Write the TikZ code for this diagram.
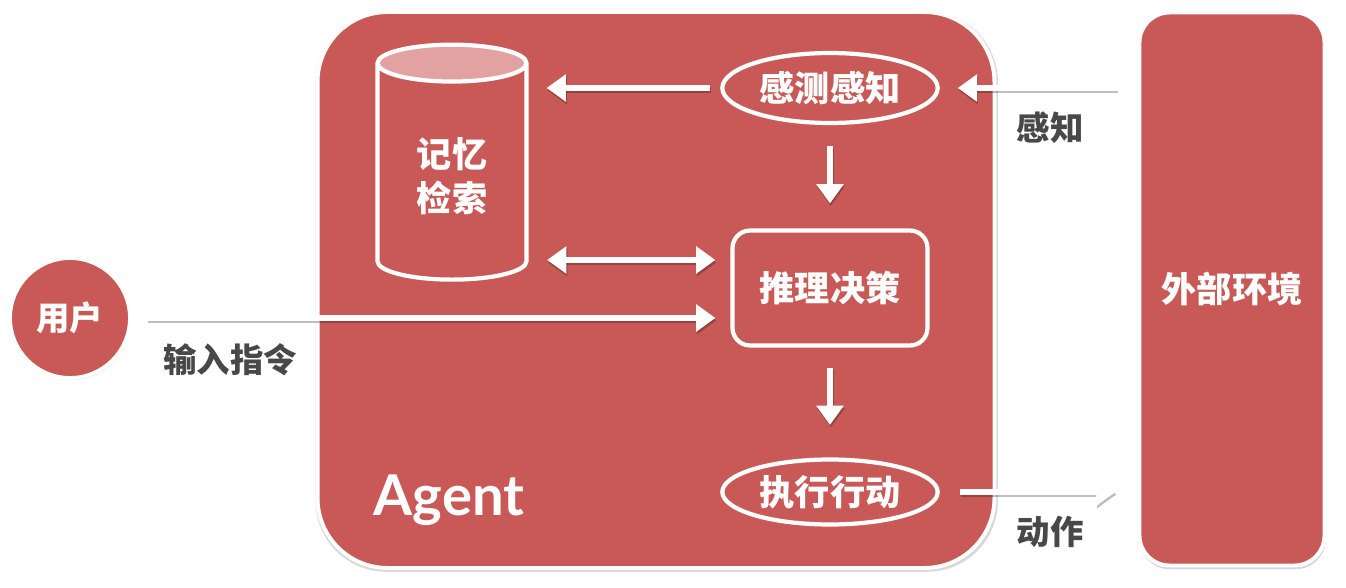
\documentclass[tikz,border=0pt]{standalone}
\usepackage{fontspec}
\usepackage{tikz}
\setmainfont{Lato}
\newfontfamily\cjk{Noto Sans CJK SC}
\usetikzlibrary{calc}
\usetikzlibrary{shapes.geometric,arrows.meta}
\usetikzlibrary{shadows}

\definecolor{agentred}{RGB}{200,89,86}
\definecolor{toppink}{RGB}{226,162,162}
\definecolor{labelgray}{RGB}{72,72,72}

% all connectors, drawn once as shadow and once in white
\newcommand\flowlines{%
	\draw[flow,shorten <=0.2cm,shorten >=0.36cm] (sense.west) -- (mem.east |- sense.west);% to memory
	\draw[flow,shorten <=0.42cm,shorten >=0.5cm] (sense.south) -- (reason.north);
	\draw[flowboth,shorten <=0.37cm,shorten >=0.3cm] (mem.east |- memio) -- (memio);
	\draw[flow,shorten <=0.3cm,shorten >=0.3cm] (user.east) -- (reason.west |- user.east);% user input
	\draw[flow,shorten <=0.4cm,shorten >=0.65cm] (reason.south) -- (act.north);
	\draw[flow,shorten <=0.4cm,shorten >=0.36cm] (env.west |- sense.east) -- (sense.east);% perception
	\draw[flow,shorten <=0.4cm,shorten >=0.44cm] (act.east) -- (env.west |- act.east);% action
}

\begin{document}
\begin{tikzpicture}[x=0.02cm,y=-0.02cm,
	box/.style={fill=agentred,draw=white,line width=2.2pt,drop shadow={shadow xshift=0.4pt,shadow yshift=-0.9pt,shadow scale=1.008,opacity=0.3}},
	part/.style={draw=white,line width=2.4pt,text=white,font=\cjk\bfseries\fontsize{20}{25}\selectfont},
	lab/.style={text=labelgray,font=\cjk\bfseries\fontsize{19}{23}\selectfont},
	flow/.style={draw=white,line width=3.2pt,-{Triangle[width=15pt,length=11pt]}},
	flowboth/.style={draw=white,line width=3.2pt,{Triangle[width=15pt,length=11pt]}-{Triangle[width=15pt,length=11pt]}}]
				\useasboundingbox (0,0) rectangle (1346,588);
				
				\node[box,rounded corners=1.4cm,minimum width=13.54cm,minimum height=11.12cm] (agent) at (656,290) {};% Agent frame
				\node[box,rounded corners=0.6cm,minimum width=3.7cm,minimum height=11.06cm,text=white,font=\cjk\bfseries\fontsize{20}{25}\selectfont] (env) at (1232,289) {外部环境};
				\node[box,circle,minimum size=2.4cm,text=white,font=\cjk\bfseries\fontsize{19}{23}\selectfont] (user) at (70,318) {用户};
				
				\node[part,cylinder,shape border rotate=90,aspect=0.45,minimum width=2.98cm,minimum height=4.7cm,cylinder uses custom fill,cylinder body fill=agentred,cylinder end fill=toppink,align=center] (mem) at (452,176) {记忆\\检索};
				\node[part,ellipse,minimum width=3.85cm,minimum height=1.4cm] (sense) at (830,88) {感测感知};
				\node[part,rounded corners=0.35cm,minimum width=3.9cm,minimum height=2.3cm] (reason) at (830,288) {推理决策};
				\node[part,ellipse,minimum width=3.85cm,minimum height=1.3cm] (act) at (830,492) {执行行动};
				\node[text=white,font=\bfseries\fontsize{32}{38}\selectfont] (agentlab) at (449,500) {Agent};
				
				\coordinate (memio) at ($(reason.west)+(0,-28)$);
				\begin{scope}[transform canvas={xshift=0.5pt,yshift=-1.4pt},
					flow/.append style={draw=black,fill=black,opacity=0.25},
					flowboth/.append style={draw=black,fill=black,opacity=0.25}]
				\flowlines
				\end{scope}
				\flowlines
				
				\node[lab] (senselab) at (1050,128) {感知};
				\node[lab] (actlab) at (1050,532) {动作};
				\node[lab] (inputlab) at (230,360) {输入指令};
				
\end{tikzpicture}
\end{document}
